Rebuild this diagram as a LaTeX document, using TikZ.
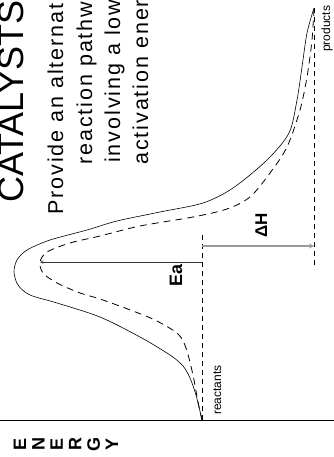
\documentclass[tikz,border=0pt]{standalone}
\usepackage{fontspec}
\setmainfont{Liberation Sans}
\newfontfamily\widefont[LetterSpace=9]{Liberation Sans}
\usetikzlibrary{arrows}

\tikzset{
  uncat/.style={line width=0.6pt},
  cat/.style={line width=0.8pt, dash pattern=on 7pt off 5pt},
  level/.style={line width=0.8pt, dash pattern=on 5pt off 4pt},
  upright/.style={rotate=90, anchor=base west, inner sep=0pt},
}

\begin{document}
\begin{tikzpicture}[x=1pt, y=-1pt, >=stealth, line join=round]
	\clip (0,0) rectangle (334,457);
	\useasboundingbox (0,0) rectangle (334,457);
	% heading, printed sideways
	\node[upright, font=\fontsize{36}{40}\selectfont] (title) at (23,203) {CATALYSTS};
	\node[upright, font=\widefont\fontsize{21.5}{26}\selectfont] (line1) at (63,215) {Provide an alternative};
	\node[upright, font=\widefont\fontsize{21.5}{26}\selectfont] (line2) at (92,165) {reaction pathway};
	\node[upright, font=\widefont\fontsize{21.5}{26}\selectfont] (line3) at (120,163) {involving a lower};
	\node[upright, font=\widefont\fontsize{21.5}{26}\selectfont] (line4) at (148,165) {activation energy};
	% energy axis
	\coordinate (axl) at (0,420);
	\coordinate (axr) at (334,420);
	\draw[line width=0.9pt] (axl) -- (axr);
	\foreach \l [count=\i] in {E,N,E,R,G,Y}
		\node[rotate=90, inner sep=0pt, font=\bfseries\fontsize{18}{18}\selectfont] (en\i) at ({20+18.4*(\i-1)},444) {\l};
	% levels
	\coordinate (reac) at (202,420);
	\coordinate (reactop) at (202,233);
	\coordinate (prod) at (314,8);
	\coordinate (prodlow) at (314,269);
	\coordinate (peak) at (40,262);
	\coordinate (eafoot) at (202,262);
	\coordinate (dhfoot) at (202,246);
	\coordinate (dhtip) at (314,246);
	\draw[level] (reac) -- (reactop);
	\draw[level] (prod) -- (prodlow);
	\draw[->, line width=0.5pt, black!80] (eafoot) -- (peak);
	\draw[->, line width=1.2pt, black!40] (dhfoot) -- (dhtip);
	% the two pathways
	\draw[uncat] plot[smooth] coordinates {(202,420) (196,395) (190,378) (183,366) (170,355) (140,337) (100,317) (57,303) (30,295) (18,285) (14,272) (17,260) (27,250) (50,240) (87,230) (117,221) (160,212) (203,203) (233,188) (267,160) (289,133) (297,100) (302,67) (307,33) (314,8)};
	\draw[cat] plot[smooth] coordinates {(202,420) (198,402) (193,375) (186,348) (178,334) (157,321) (133,311) (100,299) (80,293) (57,283) (43,273) (40,262) (47,252) (70,243) (100,236) (140,226) (193,217) (227,209) (250,197) (270,173) (287,147) (300,110) (307,77) (312,40) (314,8)};
	% labels
	\node[upright, font=\bfseries\fontsize{18}{18}\selectfont] (ea) at (182,287) {Ea};
	\node[upright, font=\bfseries\fontsize{17}{17}\selectfont] (dh) at (267,238) {ΔH};
	\node[upright, font=\fontsize{12}{12}\selectfont] (reaclbl) at (221,415) {reactants};
	\node[upright, font=\fontsize{12}{12}\selectfont] (prodlbl) at (330,52) {products};
\end{tikzpicture}
\end{document}
